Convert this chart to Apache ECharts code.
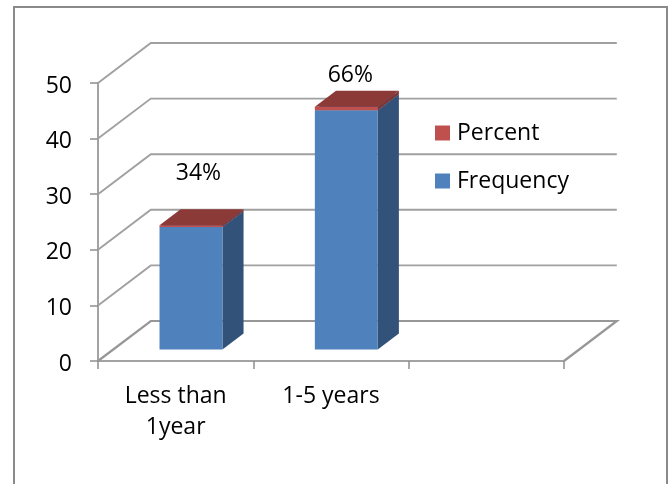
<!DOCTYPE html>
<html><head><meta charset="utf-8">
<style>html,body{margin:0;padding:0;background:#fff}#c{width:669px;height:484px}</style>
<script src="https://cdn.jsdelivr.net/npm/echarts@6/dist/echarts.min.js"></script>
</head><body><div id="c"></div>
<script>
const categories = ['Less than\n1year', '1-5 years', ''];
const frequency = [22, 43];
const percent = [0.34, 0.66];
const yTicks = [0, 10, 20, 30, 40, 50];

const FONT = '"Open Sans"';
const TEXT_SIZE = 23;
const depth = { dx: 52.8, dy: -40 };
const barDepth = { start: 0.29, size: 0.4, width: 0.405 };
const labelOffsets = [[7.5, -51.5], [4, -31]];
const palette = {
  Frequency: { front: '#4f81bd', side: '#32527a', top: '#3f6797' },
  Percent: { front: '#c0504d', side: '#7f3634', top: '#8c3a38' }
};
const lineColor = '#a0a0a0';

function wall(params, api) {
  const cs = params.coordSys;
  const v = api.value(0);
  const y = api.coord([0, v])[1];
  const left = cs.x, right = cs.x + cs.width;
  const pts = [[left, y], [left + depth.dx, y + depth.dy], [right + depth.dx, y + depth.dy]];
  if (v === 0) pts.push([right, y]);
  return {
    type: 'polyline', silent: true,
    shape: { points: pts },
    style: { fill: 'none', stroke: v === 0 ? '#979797' : lineColor, lineWidth: v === 0 ? 2.2 : 1.9 }
  };
}

function box(name, hasLabel) {
  return function (params, api) {
    const i = api.value(0);
    const base = api.value(1), top = api.value(2);
    const band = api.size([1, 0])[0];
    const w = band * barDepth.width;
    const c = api.coord([i, base]);
    const t = api.coord([i, top]);
    const ox = depth.dx * barDepth.start, oy = depth.dy * barDepth.start;
    const sx = depth.dx * barDepth.size, sy = depth.dy * barDepth.size;
    const x0 = c[0] - w / 2 + ox, x1 = x0 + w;
    const y0 = c[1] + oy, y1 = t[1] + oy;
    const col = palette[name];
    const kids = [
      { type: 'polygon', shape: { points: [[x1, y0], [x1 + sx, y0 + sy], [x1 + sx, y1 + sy], [x1, y1]] }, style: { fill: col.side } },
      { type: 'rect', shape: { x: x0, y: y1, width: w, height: y0 - y1 }, style: { fill: col.front } },
      { type: 'polygon', shape: { points: [[x0, y1], [x0 + sx, y1 + sy], [x1 + sx, y1 + sy], [x1, y1]] }, style: { fill: col.top } }
    ];
    if (hasLabel) {
      const off = labelOffsets[i];
      kids.push({
        type: 'text',
        style: {
          x: (x0 + x1) / 2 + off[0], y: y1 + off[1],
          text: Math.round(percent[i] * 100) + '%',
          fill: '#000', font: TEXT_SIZE + 'px ' + FONT, align: 'center', verticalAlign: 'middle'
        }
      });
    }
    return { type: 'group', children: kids };
  };
}

const chart = echarts.init(document.getElementById('c'), null, { renderer: 'canvas' });
chart.setOption({
  animation: false,
  backgroundColor: '#fff',
  textStyle: { fontFamily: FONT },
  graphic: [{
    type: 'rect', z: -10, silent: true,
    shape: { x: 14, y: 7, width: 653, height: 490 },
    style: { fill: '#fff', stroke: '#8a8a8a', lineWidth: 2 }
  }],
  grid: { left: 98, right: 105, top: 83, bottom: 123 },
  legend: {
    orient: 'vertical', left: 430, top: 115, itemWidth: 15, itemHeight: 15, itemGap: 22, icon: 'rect',
    data: ['Percent', 'Frequency'],
    textStyle: { fontFamily: FONT, fontSize: TEXT_SIZE, color: '#000', lineHeight: 26, padding: [0, 0, 0, 2] }
  },
  xAxis: {
    type: 'category', data: categories, boundaryGap: true,
    axisLine: { lineStyle: { color: '#a3a3a3', width: 2 } },
    axisTick: { show: true, alignWithLabel: false, length: 8, lineStyle: { color: '#8f8f8f', width: 1.5 } },
    axisLabel: { interval: 0, margin: 20, fontFamily: FONT, fontSize: TEXT_SIZE, color: '#000', lineHeight: 31 }
  },
  yAxis: {
    type: 'value', min: 0, max: 50, interval: 10,
    splitLine: { show: false },
    axisLine: { show: true, lineStyle: { color: '#a3a3a3', width: 2 } },
    axisTick: { show: true, length: 8, lineStyle: { color: '#8f8f8f', width: 1.5 } },
    axisLabel: { margin: 26, fontFamily: FONT, fontSize: TEXT_SIZE, color: '#000', verticalAlign: 'top', lineHeight: 6 }
  },
  series: [
    {
      type: 'custom', name: 'walls', z: 1, clip: false,
      data: yTicks.map(v => [v]), encode: { y: 0 },
      renderItem: wall
    },
    {
      type: 'custom', name: 'Frequency', z: 3, clip: false,
      itemStyle: { color: palette.Frequency.front },
      data: frequency.map((v, i) => [i, 0, v]), encode: { x: 0, y: [1, 2] },
      renderItem: box('Frequency', false)
    },
    {
      type: 'custom', name: 'Percent', z: 4, clip: false,
      itemStyle: { color: palette.Percent.front },
      data: percent.map((v, i) => [i, frequency[i], frequency[i] + v]), encode: { x: 0, y: [1, 2] },
      renderItem: box('Percent', true)
    }
  ]
});
</script></body></html>
